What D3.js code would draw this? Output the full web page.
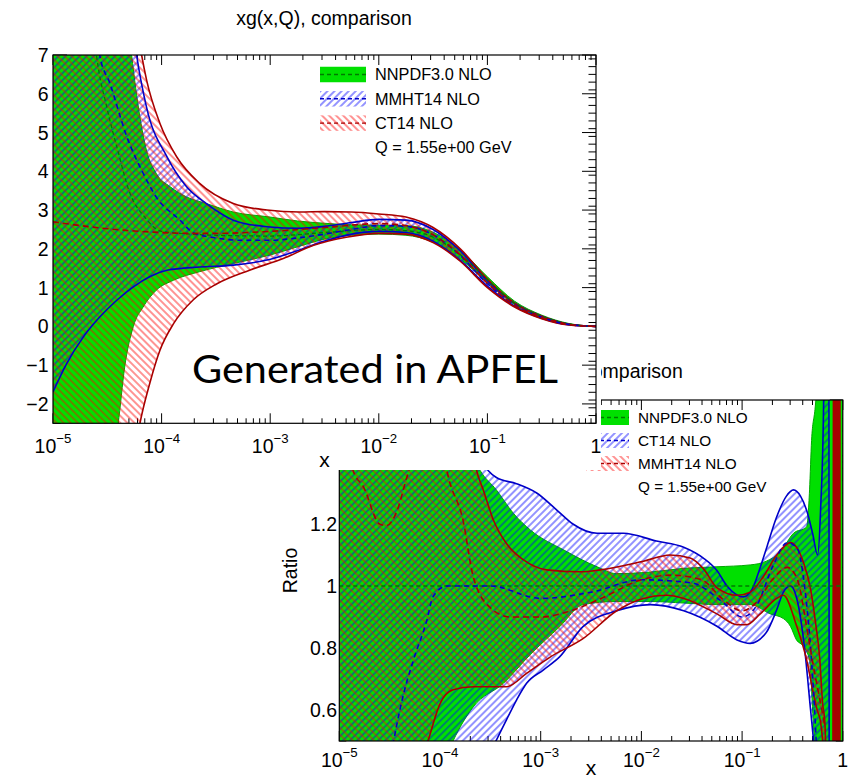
<!DOCTYPE html>
<html><head><meta charset="utf-8">
<script src="https://cdn.jsdelivr.net/npm/d3@7"></script>
<style>
body{margin:0;background:#fff;}
svg{display:block;}
text{font-family:"Liberation Sans",Arial,Helvetica,sans-serif;fill:#000;}
</style>
</head><body>
<svg id="c" width="851" height="779"></svg>
<script>
// ---------------- text / ticks ----------------
const titleText = "xg(x,Q), comparison";
const watermark = "Generated in APFEL";
const qLabel = "Q = 1.55e+00 GeV";
const xTickExp = [-5, -4, -3, -2, -1, 0];
const topYTicks = [-2, -1, 0, 1, 2, 3, 4, 5, 6, 7];
const ratioYTicks = [0.6, 0.8, 1, 1.2, 1.4, 1.6];
const ratioYLabels = [0.6, 0.8, 1, 1.2];
const topLegend = ["NNPDF3.0 NLO", "MMHT14 NLO", "CT14 NLO"];
const ratioLegend = ["NNPDF3.0 NLO", "CT14 NLO", "MMHT14 NLO"];

// ---------------- top panel: xg(x,Q), x given as log10(x) ----------------
const topNN_upL = [-5,-4.75,-4.5,-4.35,-4.276,-4.2,-4.14,-4.05,-3.92,-3.77,-3.59,-3.34,-3.0,-2.75,-2.5,-2.25,-2.0,-1.75,-1.5,-1.25,-1.0,-0.75,-0.5,-0.25,0];
const topNN_up  = [40,22,13,9,7.0,5.41,4.55,3.95,3.6,3.34,3.17,2.95,2.82,2.72,2.66,2.62,2.61,2.6,2.43,1.97,1.28,0.65,0.29,0.075,0];
const topNN_loL = [-5,-4.75,-4.5,-4.4,-4.34,-4.26,-4.17,-4.05,-3.89,-3.65,-3.34,-3.0,-2.75,-2.5,-2.25,-2.0,-1.75,-1.5,-1.25,-1.0,-0.75,-0.5,-0.25,0];
const topNN_lo  = [-15,-7,-3.6,-2.5,-1.05,0.0,0.5,0.93,1.19,1.41,1.62,1.84,2.05,2.25,2.35,2.38,2.35,2.17,1.74,1.13,0.56,0.23,0.045,0];
const topNN_cL  = [-5,-4.75,-4.6,-4.5,-4.4,-4.3,-4.15,-4.0,-3.5,-3.0,-2.5,-2.0,-1.75,-1.5,-1.25,-1.0,-0.75,-0.5,-0.25,0];
const topNN_c   = [25,12,7,5.6,4.5,3.5,2.8,2.45,2.35,2.33,2.42,2.5,2.47,2.3,1.85,1.2,0.6,0.26,0.06,0];

const topMM_upL = [-5,-4.5,-4.3,-4.23,-4.14,-3.95,-3.77,-3.59,-3.34,-3.03,-2.73,-2.5,-2.25,-2.0,-1.75,-1.5,-1.25,-1.0,-0.75,-0.5,-0.25,0];
const topMM_up  = [60,14,8.6,7.0,5.67,4.37,3.6,3.17,2.74,2.57,2.53,2.58,2.68,2.76,2.74,2.5,1.95,1.17,0.6,0.26,0.055,0];
const topMM_loL = [-5,-4.874,-4.72,-4.57,-4.41,-4.26,-4.11,-3.95,-3.65,-3.34,-3.03,-2.73,-2.5,-2.25,-2.0,-1.75,-1.5,-1.25,-1.0,-0.75,-0.5,-0.25,0];
const topMM_lo  = [-1.69,-0.96,-0.27,0.24,0.68,1.02,1.28,1.45,1.53,1.58,1.71,1.97,2.2,2.38,2.45,2.42,2.2,1.7,1.04,0.52,0.21,0.04,0];
const topMM_cL  = [-5,-4.75,-4.57,-4.476,-4.32,-4.17,-4.05,-3.83,-3.71,-3.5,-3.25,-3.0,-2.75,-2.5,-2.25,-2.0,-1.75,-1.5,-1.25,-1.0,-0.75,-0.5,-0.25,0];
const topMM_c   = [30,14,7.0,6.27,4.89,3.95,3.34,2.74,2.42,2.28,2.22,2.22,2.28,2.38,2.5,2.6,2.58,2.36,1.83,1.1,0.56,0.235,0.047,0];

const topCT_upL = [-5,-4.5,-4.3,-4.184,-4.138,-4.016,-3.86,-3.65,-3.34,-3.03,-2.73,-2.5,-2.25,-2.0,-1.75,-1.5,-1.25,-1.0,-0.75,-0.5,-0.25,0];
const topCT_up  = [80,16,9.2,7.0,6.35,5.24,4.37,3.69,3.17,3.0,2.95,2.96,2.95,2.9,2.82,2.55,2.0,1.22,0.6,0.26,0.055,0];
const topCT_loL = [-5,-4.5,-4.3,-4.2,-4.11,-4.016,-3.89,-3.71,-3.49,-3.19,-2.88,-2.6,-2.3,-2.0,-1.75,-1.5,-1.25,-1.0,-0.75,-0.5,-0.25,0];
const topCT_lo  = [-30,-9,-4.3,-2.51,-1.48,-0.62,0.07,0.68,1.1,1.45,1.75,2.09,2.3,2.4,2.38,2.16,1.68,1.0,0.5,0.2,0.035,0];
const topCT_cL  = [-5,-4.75,-4.5,-4.25,-4.0,-3.75,-3.5,-3.0,-2.5,-2.0,-1.75,-1.5,-1.25,-1.0,-0.75,-0.5,-0.25,0];
const topCT_c   = [2.7,2.6,2.52,2.46,2.42,2.4,2.4,2.45,2.55,2.65,2.6,2.36,1.84,1.11,0.55,0.23,0.045,0];

// ---------------- ratio panel (normalised to NNPDF3.0 central) ----------------
const rNN_upL = [-5,-4.5,-4,-3.8,-3.6,-3.44,-3.27,-3.1,-2.77,-2.44,-2.25,-1.91,-1.58,-1.25,-0.92,-0.76,-0.62,-0.49,-0.36,-0.33,-0.31,-0.276,-0.24,0];
const rNN_up  = [5,3,1.75,1.52,1.372,1.31,1.234,1.18,1.116,1.062,1.04,1.045,1.057,1.062,1.068,1.08,1.11,1.17,1.19,1.31,1.47,1.57,1.7,3];
const rNN_loL = [-5,-4.5,-4.1,-3.87,-3.67,-3.37,-3.1,-2.81,-2.58,-2.25,-1.91,-1.58,-1.25,-0.92,-0.72,-0.59,-0.52,-0.46,-0.39,-0.33,-0.3,-0.27,-0.2,0];
const rNN_lo  = [-3,-1,0.3,0.5,0.61,0.686,0.78,0.869,0.94,0.95,0.95,0.945,0.94,0.94,0.91,0.895,0.87,0.826,0.805,0.76,0.6,0.4,-1,-3];
const rNN_cL  = [-5, 0];
const rNN_c   = [1, 1];

const rCT_upL = [-5,-4,-3.8,-3.6,-3.44,-3.24,-3.04,-2.84,-2.68,-2.44,-2.18,-1.85,-1.58,-1.385,-1.25,-1.15,-0.99,-0.9,-0.82,-0.75,-0.66,-0.56,-0.49,-0.42,-0.36,-0.3,-0.25,-0.22,-0.19,-0.18,-0.14,-0.13,0];
const rCT_up  = [4,2.5,1.8,1.42,1.35,1.33,1.30,1.245,1.20,1.17,1.17,1.145,1.125,1.09,1.05,1.0,0.965,0.99,1.06,1.13,1.22,1.29,1.31,1.29,1.245,1.17,1.1,1.25,1.6,2.5,2.5,-2,-2];
const rCT_loL = [-5,-4,-3.6,-3.44,-3.34,-3.24,-3.14,-2.975,-2.81,-2.58,-2.245,-1.91,-1.58,-1.25,-1.05,-0.92,-0.76,-0.66,-0.59,-0.52,-0.45,-0.38,-0.32,-0.29,-0.2,-0.18,0];
const rCT_lo  = [-2,0.1,0.4,0.503,0.568,0.632,0.686,0.729,0.772,0.869,0.92,0.94,0.92,0.87,0.826,0.815,0.85,0.92,0.98,1.0,0.95,0.8,0.6,0.5,0.1,-2,-2];
const rCT_cL  = [-4.6,-4.46,-4.36,-4.265,-4.13,-4.07,-3.93,-3.5,-3.0,-2.5,-2.0,-1.5,-1.2,-1.0,-0.85,-0.7,-0.55,-0.45,-0.38,-0.32,-0.28,-0.25];
const rCT_c   = [0.2,0.5,0.654,0.76,0.89,0.965,1.0,1.0,0.96,0.98,1.02,1.01,0.95,0.9,0.94,1.06,1.14,1.12,1.0,0.8,0.6,0.4];

const rMM_upL = [-5,-4,-3.8,-3.636,-3.57,-3.47,-3.34,-3.17,-2.94,-2.61,-2.41,-1.98,-1.716,-1.516,-1.385,-1.25,-1.05,-0.92,-0.79,-0.656,-0.52,-0.39,-0.32,-0.27,-0.23,-0.2,-0.178,-0.15,-0.1,-0.088,-0.082,-0.076,-0.07,-0.064,-0.058,-0.052,-0.046,-0.04,-0.034,-0.029,-0.026,0];
const rMM_up  = [4,2.5,1.8,1.372,1.31,1.213,1.137,1.084,1.052,1.046,1.052,1.08,1.1,1.09,1.056,0.995,0.97,0.98,1.03,1.1,1.14,1.075,0.99,0.88,0.77,0.62,0.56,0.3,0.3,2.5,-3,2.5,-3,2.5,-3,2.5,-3,2.5,-3,2.5,-3,-3];
const rMM_loL = [-5,-4.3,-4.116,-4.0,-3.87,-3.67,-3.34,-3.14,-2.91,-2.58,-2.245,-1.98,-1.75,-1.58,-1.25,-1.05,-0.955,-0.82,-0.656,-0.59,-0.458,-0.358,-0.29,-0.255,-0.22,-0.2,-0.15,-0.1,-0.088,0];
const rMM_lo  = [-2,0.3,0.503,0.62,0.665,0.675,0.675,0.718,0.77,0.83,0.92,0.96,0.97,0.96,0.91,0.875,0.875,0.91,0.96,0.97,0.87,0.76,0.65,0.6,0.56,0.5,0.2,0.2,-3,-3];
const rMM_cL  = [-5,-4.86,-4.76,-4.6,-4.53,-4.43,-4.33,-4.23,-4.1,-4.0,-3.93,-3.77,-3.67,-3.5,-3.3,-3.0,-2.7,-2.4,-2.0,-1.7,-1.4,-1.2,-1.0,-0.85,-0.7,-0.55,-0.45,-0.35,-0.28,-0.22,-0.18];
const rMM_c   = [1.6,1.37,1.32,1.2,1.195,1.24,1.35,1.45,1.55,1.5,1.37,1.21,1.03,0.93,0.9,0.9,0.92,0.96,1.02,1.035,1.02,0.96,0.92,0.95,1.02,1.06,1.02,0.85,0.72,0.62,0.55];

// ---------------- styles ----------------
const GREEN = "#00e000", GREEN_EDGE = "#00a800", GREEN_DASH = "#007a00";
const BLUE_HATCH = "#0000ff", BLUE_LINE = "#0000c8";
const RED_HATCH = "#ff0000", RED_LINE = "#a80000";

const svg = d3.select("#c");
const defs = svg.append("defs");
function hatch(id, color, angle){
  const p = defs.append("pattern").attr("id", id).attr("patternUnits","userSpaceOnUse")
    .attr("width", 5).attr("height", 5).attr("patternTransform", `rotate(${angle})`);
  p.append("line").attr("x1",1).attr("y1",-2).attr("x2",1).attr("y2",7)
    .attr("stroke", color).attr("stroke-width", 0.85);
}
hatch("hBlue", BLUE_HATCH, 45);   // "/"
hatch("hRed", RED_HATCH, -45);    // "\"

const lineGen = d3.line().curve(d3.curveMonotoneX);

function drawPanel(p){
  const g = svg.append("g");
  if (p.cover) g.append("rect").attr("x",p.cover[0]).attr("y",p.cover[1]).attr("width",p.cover[2]).attr("height",p.cover[3]).attr("fill","#fff");
  const x = d3.scaleLog().domain([1e-5, 1]).range([p.l, p.r]);
  const y = d3.scaleLinear().domain(p.yDom).range([p.b, p.t]);
  const pts = (L, V) => L.map((l, i) => [x(Math.pow(10, l)), y(V[i])]);

  // ticks (underneath the bands, as in the original)
  const tk = g.append("g").attr("stroke", "#000").attr("stroke-width", 1);
  const xMaj = xTickExp.map(e => Math.pow(10, e));
  const xMin = [];
  for (let e = -5; e < 0; e++) for (let k = 2; k <= 9; k++) xMin.push(k * Math.pow(10, e));
  [[xMaj, p.xMaj], [xMin, p.xMin]].forEach(([vals, len]) => vals.forEach(v => {
    const px = x(v);
    tk.append("line").attr("x1",px).attr("x2",px).attr("y1",p.b).attr("y2",p.b-len);
    tk.append("line").attr("x1",px).attr("x2",px).attr("y1",p.t).attr("y2",p.t+len);
  }));
  const yMinVals = d3.range(p.yDom[0], p.yDom[1] + 1e-9, p.yMinStep).filter(v => v >= p.yDom[0]-1e-9);
  [[p.yTicks, p.yMaj], [yMinVals, p.yMin]].forEach(([vals, len]) => vals.forEach(v => {
    const py = y(v);
    if (py < p.t - 0.5 || py > p.b + 0.5) return;
    tk.append("line").attr("x1",p.l).attr("x2",p.l+len).attr("y1",py).attr("y2",py);
    tk.append("line").attr("x1",p.r).attr("x2",p.r-len).attr("y1",py).attr("y2",py);
  }));

  // clip
  defs.append("clipPath").attr("id", "clip" + p.id).append("rect")
    .attr("x", p.l).attr("y", p.t).attr("width", p.r - p.l).attr("height", p.b - p.t);
  const plot = g.append("g").attr("clip-path", `url(#clip${p.id})`);

  const bandD = s => {
    const a = lineGen(pts(s.upL, s.up));
    const b = lineGen(pts(s.loL, s.lo).reverse());
    return a + "L" + b.slice(1) + "Z";
  };
  p.sets.forEach(s => {
    plot.append("path").attr("d", bandD(s)).attr("fill", s.fill)
      .attr("stroke", s.edge || "none").attr("stroke-width", s.edge ? 1 : 0);
  });
  p.sets.forEach(s => {
    if (!s.line) return;
    plot.append("path").attr("d", lineGen(pts(s.upL, s.up))).attr("fill","none").attr("stroke", s.line).attr("stroke-width", 1.6);
    plot.append("path").attr("d", lineGen(pts(s.loL, s.lo))).attr("fill","none").attr("stroke", s.line).attr("stroke-width", 1.6);
  });
  p.sets.forEach(s => {
    plot.append("path").attr("d", lineGen(pts(s.cL, s.c))).attr("fill","none")
      .attr("stroke", s.dash).attr("stroke-width", s.dashW).attr("stroke-dasharray", s.dashArr);
  });

  // frame
  g.append("rect").attr("x", p.l).attr("y", p.t).attr("width", p.r - p.l).attr("height", p.b - p.t)
    .attr("fill", "none").attr("stroke", "#000").attr("stroke-width", 1.2);

  // x labels
  xTickExp.forEach(e => {
    const t = g.append("text").attr("x", x(Math.pow(10, e))).attr("y", p.xLabY)
      .attr("text-anchor", "middle").attr("font-size", p.fs);
    if (e === 0) { t.text("1"); }
    else {
      t.append("tspan").text("10");
      t.append("tspan").attr("dy", -p.fs * 0.5).attr("font-size", p.fs * 0.68).text("\u2212" + (-e));
    }
  });
  g.append("text").attr("x", (p.l + p.r) / 2).attr("y", p.xTitleY).attr("text-anchor","middle")
    .attr("font-size", p.fs + 1.5).text("x");
  // y labels
  p.yLabels.forEach(v => {
    const lab = v < 0 ? "\u2212" + (-v) : String(v);
    g.append("text").attr("x", p.yLabX).attr("y", y(v) + p.fs * 0.36).attr("text-anchor","end")
      .attr("font-size", p.fs).text(lab);
  });
  if (p.yTitle) {
    g.append("text").attr("transform", `translate(${p.yTitleX},${(p.t + p.b) / 2}) rotate(-90)`)
      .attr("text-anchor","middle").attr("font-size", p.fs).text(p.yTitle);
  }
  // title
  g.append("text").attr("x", p.titleX).attr("y", p.titleY).attr("text-anchor","middle")
    .attr("font-size", p.fs).text(titleText);

  // legend
  const lg = g.append("g");
  p.legend.forEach((it, i) => {
    const cy = p.legY0 + i * p.legDy;
    lg.append("rect").attr("x", p.legX).attr("y", cy - p.legH / 2).attr("width", p.legW).attr("height", p.legH)
      .attr("fill", it.fill);
    lg.append("line").attr("x1", p.legX).attr("x2", p.legX + p.legW).attr("y1", cy).attr("y2", cy)
      .attr("stroke", it.dash).attr("stroke-width", 1.4).attr("stroke-dasharray", "4,3");
    lg.append("text").attr("x", p.legX + p.legW + 9).attr("y", cy + p.legFs * 0.36)
      .attr("font-size", p.legFs).text(it.name);
  });
  lg.append("text").attr("x", p.legX + p.legW + 9).attr("y", p.legY0 + 3 * p.legDy + p.legFs * 0.36)
    .attr("font-size", p.legFs).text(qLabel);
  return g;
}

const setNN = (upL, up, loL, lo, cL, c) => ({upL, up, loL, lo, cL, c, fill: GREEN, edge: GREEN_EDGE, dash: GREEN_DASH, dashW: 1.3, dashArr: "4,3"});
const setBlue = (upL, up, loL, lo, cL, c) => ({upL, up, loL, lo, cL, c, fill: "url(#hBlue)", line: BLUE_LINE, dash: BLUE_LINE, dashW: 1.6, dashArr: "5,4"});
const setRed = (upL, up, loL, lo, cL, c) => ({upL, up, loL, lo, cL, c, fill: "url(#hRed)", line: RED_LINE, dash: RED_LINE, dashW: 1.6, dashArr: "6,4"});

// ratio panel first (it lies underneath)
drawPanel({
  id: "R", l: 339.3, r: 842.8, t: 400, b: 741, yDom: [0.5, 1.6], yTicks: ratioYTicks, yLabels: ratioYLabels, yMinStep: 0.04,
  xMaj: 10, xMin: 5, yMaj: 13, yMin: 7, fs: 19.5,
  xLabY: 766.5, xTitleY: 774.5, yLabX: 337, yTitle: "Ratio", yTitleX: 297,
  titleX: 595, titleY: 378,
  sets: [
    setNN(rNN_upL, rNN_up, rNN_loL, rNN_lo, rNN_cL, rNN_c),
    setBlue(rCT_upL, rCT_up, rCT_loL, rCT_lo, rCT_cL, rCT_c),
    setRed(rMM_upL, rMM_up, rMM_loL, rMM_lo, rMM_cL, rMM_c)
  ],
  legend: [
    {name: ratioLegend[0], fill: GREEN, dash: GREEN_DASH},
    {name: ratioLegend[1], fill: "url(#hBlue)", dash: BLUE_LINE},
    {name: ratioLegend[2], fill: "url(#hRed)", dash: RED_LINE}
  ],
  legX: 586, legW: 43, legH: 15, legY0: 417.5, legDy: 23, legFs: 15.3
});

// main panel on top
drawPanel({
  id: "T", cover: [0, 0, 601, 470], l: 53, r: 596, t: 55, b: 423.3, yDom: [-2.5, 7], yTicks: topYTicks, yLabels: topYTicks, yMinStep: 0.2,
  xMaj: 10, xMin: 5, yMaj: 14, yMin: 7.5, fs: 19.5,
  xLabY: 452.5, xTitleY: 466.5, yLabX: 48.5,
  titleX: 324, titleY: 24.5,
  sets: [
    setNN(topNN_upL, topNN_up, topNN_loL, topNN_lo, topNN_cL, topNN_c),
    setBlue(topMM_upL, topMM_up, topMM_loL, topMM_lo, topMM_cL, topMM_c),
    setRed(topCT_upL, topCT_up, topCT_loL, topCT_lo, topCT_cL, topCT_c)
  ],
  legend: [
    {name: topLegend[0], fill: GREEN, dash: GREEN_DASH},
    {name: topLegend[1], fill: "url(#hBlue)", dash: BLUE_LINE},
    {name: topLegend[2], fill: "url(#hRed)", dash: RED_LINE}
  ],
  legX: 320, legW: 46, legH: 15.5, legY0: 74.5, legDy: 24.3, legFs: 16.3
});

// watermark
svg.append("text").attr("x", 192).attr("y", 382.5).attr("font-size", 39)
  .attr("textLength", 366).attr("lengthAdjust", "spacingAndGlyphs")
  .style("font-family", "Lato, 'Open Sans', sans-serif").text(watermark);
</script>
</body></html>
